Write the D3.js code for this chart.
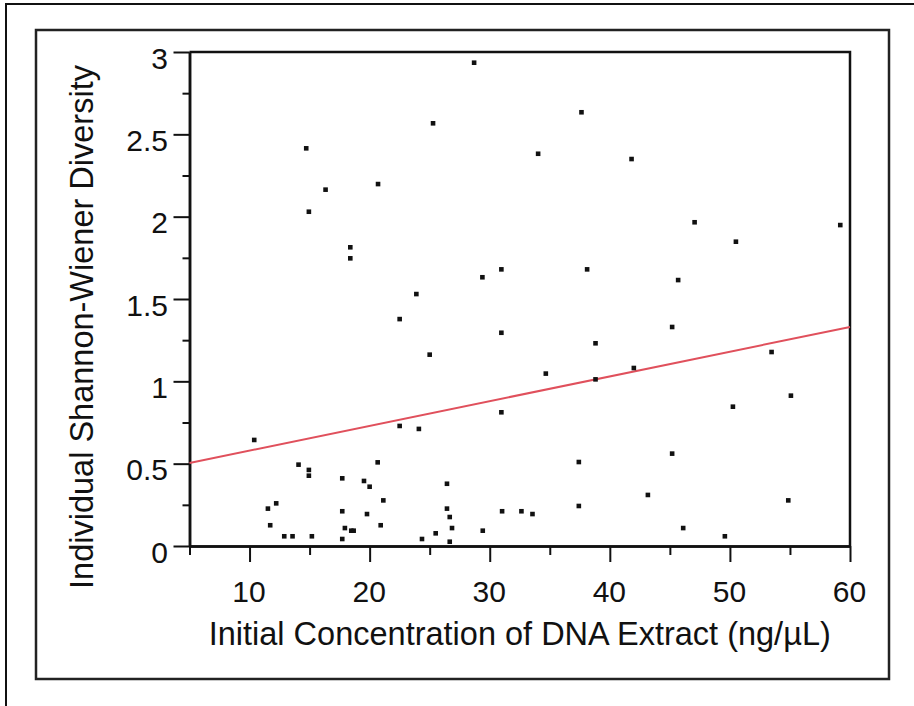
<!DOCTYPE html>
<html>
<head>
<meta charset="utf-8">
<script src="https://cdn.jsdelivr.net/npm/d3@7"></script>
<style>
  html, body { margin: 0; padding: 0; background: #fff; }
  svg { display: block; }
  text { font-family: "Liberation Sans", Arial, sans-serif; fill: #111; }
</style>
</head>
<body>
<svg id="chart" width="914" height="706"></svg>
<script>
// Scatter of initial DNA concentration vs individual Shannon-Wiener diversity,
// with the fitted regression line drawn in red.

const concentration = [
  28.7, 25.28, 14.72, 20.7, 16.33, 14.94, 18.39, 18.39, 30.97, 29.39,
  23.89, 37.64, 34.03, 41.81, 47.06, 59.19, 50.5, 38.11, 45.69, 22.5,
  30.97, 25.0, 30.97, 22.5, 24.1, 10.39, 45.19, 38.81, 34.67, 42.0,
  38.81, 53.47, 55.08, 50.25, 45.19, 37.42, 43.17, 54.86, 37.42, 46.11,
  49.58, 14.08, 14.94, 14.94, 20.67, 17.72, 19.53, 20.0, 26.44, 12.22,
  11.53, 21.14, 17.72, 19.78, 26.44, 26.67, 31.03, 32.64, 33.56, 11.72,
  20.92, 17.94, 18.47, 18.67, 26.86, 25.5, 29.42, 12.89, 13.58, 15.19,
  17.72, 24.36, 26.67
];

const diversity = [
  2.935, 2.567, 2.415, 2.198, 2.164, 2.03, 1.814, 1.747, 1.68, 1.632,
  1.53, 2.634, 2.382, 2.35, 1.966, 1.949, 1.848, 1.68, 1.615, 1.378,
  1.295, 1.162, 0.812, 0.729, 0.711, 0.644, 1.33, 1.231, 1.047, 1.081,
  1.012, 1.178, 0.913, 0.846, 0.561, 0.51, 0.31, 0.277, 0.243, 0.109,
  0.059, 0.494, 0.462, 0.427, 0.508, 0.411, 0.395, 0.36, 0.378, 0.259,
  0.227, 0.277, 0.211, 0.194, 0.227, 0.176, 0.211, 0.211, 0.194, 0.126,
  0.126, 0.109, 0.093, 0.093, 0.109, 0.077, 0.093, 0.059, 0.059, 0.059,
  0.0425, 0.0425, 0.026
];

// fitted line: diversity = intercept + slope * concentration
const fit = { intercept: 0.429, slope: 0.01502 };

const xMajorTicks = [10, 20, 30, 40, 50, 60];
const xMinorTicks = [5, 15, 25, 35, 45, 55];
const yMajorTicks = [0, 0.5, 1, 1.5, 2, 2.5, 3];
const yMinorTicks = [0.25, 0.75, 1.25, 1.75, 2.25, 2.75];

const xTitle = "Initial Concentration of DNA Extract (ng/\u00b5L)";
const yTitle = "Individual Shannon-Wiener Diversity";

const PLOT = { left: 189.5, right: 850, top: 52, bottom: 546 };

const svg = d3.select("#chart");

const x = d3.scaleLinear().domain([5, 60]).range([PLOT.left, PLOT.right]);
const y = d3.scaleLinear().domain([0, 3]).range([PLOT.bottom, PLOT.top]);

// outer frame (only left + top visible, rest runs off the page)
svg.append("path")
  .attr("d", "M6,706 L6,4 L914,4")
  .attr("fill", "none")
  .attr("stroke", "#111")
  .attr("stroke-width", 2);

// inner box around the figure
svg.append("rect")
  .attr("x", 36).attr("y", 30)
  .attr("width", 889 - 36).attr("height", 679 - 30)
  .attr("fill", "none")
  .attr("stroke", "#222")
  .attr("stroke-width", 2.5);

// plot frame: top + right edges
svg.append("path")
  .attr("d", `M${PLOT.left},${PLOT.top} L${PLOT.right},${PLOT.top} L${PLOT.right},${PLOT.bottom}`)
  .attr("fill", "none")
  .attr("stroke", "#111")
  .attr("stroke-width", 2.5);

// ---- axes ----
function styleAxis(g) {
  g.select(".domain").attr("stroke", "#111").attr("stroke-width", 2.5);
  g.selectAll(".tick line").attr("stroke", "#111").attr("stroke-width", 2);
}

const xMinor = svg.append("g")
  .attr("transform", `translate(0,${PLOT.bottom})`)
  .call(d3.axisBottom(x).tickValues(xMinorTicks).tickSize(9).tickSizeOuter(0).tickFormat(""));
styleAxis(xMinor);

const xMajor = svg.append("g")
  .attr("transform", `translate(0,${PLOT.bottom})`)
  .call(d3.axisBottom(x).tickValues(xMajorTicks).tickSize(16).tickSizeOuter(0).tickFormat(d3.format("d")));
styleAxis(xMajor);
xMajor.selectAll(".tick text")
  .attr("y", 0)
  .attr("dy", 0)
  .attr("transform", "translate(-1,55.7)")
  .style("font-size", "30px")
  .style("font-family", '"Liberation Sans", Arial, sans-serif')
  .attr("fill", "#111");

const yMinor = svg.append("g")
  .attr("transform", `translate(${PLOT.left},0)`)
  .call(d3.axisLeft(y).tickValues(yMinorTicks).tickSize(7).tickSizeOuter(0).tickFormat(""));
styleAxis(yMinor);

const yMajor = svg.append("g")
  .attr("transform", `translate(${PLOT.left},0)`)
  .call(d3.axisLeft(y).tickValues(yMajorTicks).tickSize(16).tickSizeOuter(0).tickFormat((d) => String(d)));
styleAxis(yMajor);
yMajor.selectAll(".tick text")
  .attr("x", -21.5)
  .attr("dy", 0)
  .attr("y", 16)
  .style("font-size", "30px")
  .style("font-family", '"Liberation Sans", Arial, sans-serif')
  .attr("fill", "#111");

// ---- titles ----
svg.append("text")
  .attr("x", (PLOT.left + PLOT.right) / 2)
  .attr("y", 645)
  .attr("text-anchor", "middle")
  .style("font-size", "32.5px")
  .text(xTitle);

svg.append("text")
  .attr("transform", "translate(93,327) rotate(-90)")
  .attr("text-anchor", "middle")
  .style("font-size", "32.5px")
  .text(yTitle);

// ---- regression line ----
const [x0, x1] = x.domain();
svg.append("line")
  .attr("x1", x(x0)).attr("y1", y(fit.intercept + fit.slope * x0))
  .attr("x2", x(x1)).attr("y2", y(fit.intercept + fit.slope * x1))
  .attr("stroke", "#e0505c")
  .attr("stroke-width", 2);

// ---- points ----
const points = concentration.map((c, i) => ({ c, d: diversity[i] }));
const S = 4.6;
svg.append("g")
  .selectAll("rect")
  .data(points)
  .join("rect")
  .attr("x", (p) => x(p.c) - S / 2)
  .attr("y", (p) => y(p.d) - S / 2)
  .attr("width", S)
  .attr("height", S)
  .attr("fill", "#111");
</script>
</body>
</html>
